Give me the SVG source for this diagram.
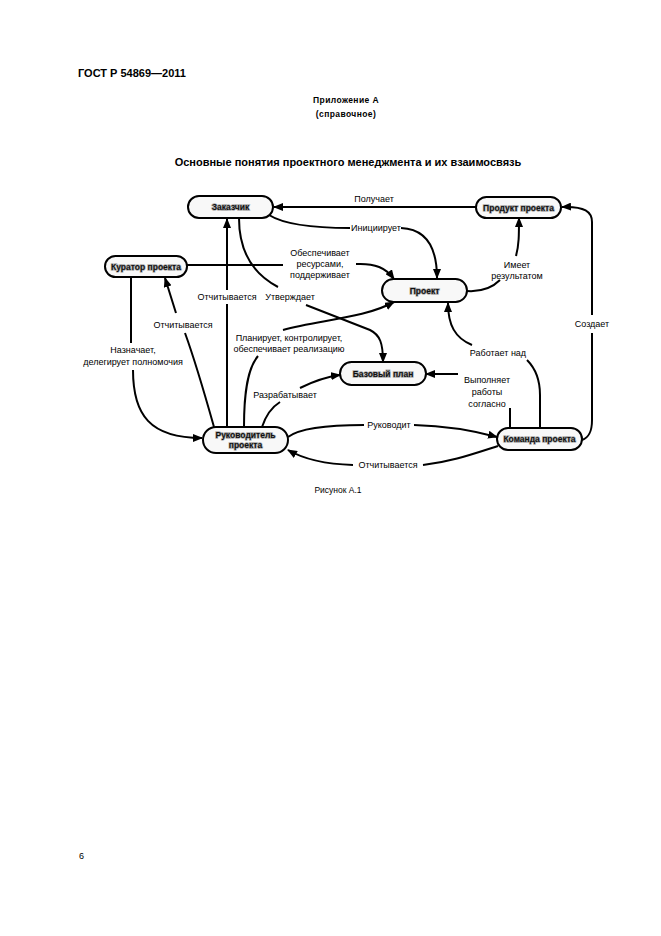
<svg xmlns="http://www.w3.org/2000/svg" width="661" height="936" viewBox="0 0 661 936">
<defs>
<marker id="ah" viewBox="0 0 10 8" refX="9" refY="4" markerWidth="10" markerHeight="8" markerUnits="userSpaceOnUse" orient="auto">
<path d="M0,0 L10,4 L0,8 z" fill="#000"/>
</marker>
</defs>
<style>
.t{font-family:"Liberation Sans",Arial,sans-serif;fill:#000}
.hd{font-weight:bold;font-size:11px}
.ap{font-weight:bold;font-size:8.5px;letter-spacing:0.4px}
.ti{font-weight:bold;font-size:11px}
.lb{font-size:9px;text-anchor:middle}
.nt{font-family:"Liberation Sans",Arial,sans-serif;font-weight:bold;font-size:8.5px;text-anchor:middle;fill:#111;stroke:#aaa;stroke-width:1.4px;paint-order:stroke}
.box{fill:#f8f8f8;stroke:#000;stroke-width:2}
.e{fill:none;stroke:#000;stroke-width:2}
.a{marker-end:url(#ah)}
</style>
<rect width="661" height="936" fill="#fff"/>
<text class="t hd" x="78" y="77">ГОСТ Р 54869—2011</text>
<text class="t ap" x="346" y="103" text-anchor="middle">Приложение А</text>
<text class="t ap" x="346" y="117" text-anchor="middle">(справочное)</text>
<text class="t ti" x="348" y="166" text-anchor="middle">Основные понятия проектного менеджмента и их взаимосвязь</text>

<g id="connectors">
<path class="e a" d="M476,207 L274,207"/>
<path class="e" d="M269,215 C285,225 318,228 350,228"/>
<path class="e a" d="M401,228 C425,229 437,245 437,278"/>
<path class="e" d="M187,265 L283,265"/>
<path class="e a" d="M356,264 C375,263 386,268 394,279"/>
<path class="e" d="M467,291 C482,292 493,287 500,280"/>
<path class="e a" d="M516,256 C519,245 519,235 519,218"/>
<path class="e" d="M582,440 C590,437 592,430 592,420 L592,333"/>
<path class="e a" d="M592,315 L592,222 C592,212 585,206 562,207"/>
<path class="e" d="M227,427 L227,304"/>
<path class="e a" d="M227,290 L227,219"/>
<path class="e" d="M239,218 C239,255 255,275 278,287"/>
<path class="e a" d="M306,305 L370,330 C380,335 383,343 383,362"/>
<path class="e" d="M244,427 C244,390 248,368 258,356"/>
<path class="e a" d="M283,330 C320,320 365,318 394,302"/>
<path class="e" d="M262,427 C266,415 272,407 280,402"/>
<path class="e a" d="M300,388 C312,382 325,377 340,375"/>
<path class="e" d="M131,277 L131,343"/>
<path class="e a" d="M133,370 C133,415 150,438 202,438"/>
<path class="e" d="M214,427 C205,395 193,355 185,333"/>
<path class="e a" d="M176,313 L165,278"/>
<path class="e" d="M288,437 C300,428 330,425 364,425"/>
<path class="e a" d="M414,425 C450,426 475,431 497,437"/>
<path class="e" d="M498,446 C470,455 450,462 423,465"/>
<path class="e a" d="M353,465 C320,464 300,457 288,450"/>
<path class="e" d="M510,427 L510,408"/>
<path class="e a" d="M458,374 L426,374"/>
<path class="e" d="M540,428 L540,395 C540,378 535,368 527,360"/>
<path class="e a" d="M472,345 C455,338 448,325 448,303"/>
</g>

<g id="labels">
<text class="t lb" x="374" y="202">Получает</text>
<text class="t lb" x="376" y="231">Инициирует</text>
<text class="t lb" x="320" y="256">Обеспечивает</text>
<text class="t lb" x="320" y="267">ресурсами,</text>
<text class="t lb" x="320" y="278">поддерживает</text>
<text class="t lb" x="517" y="268">Имеет</text>
<text class="t lb" x="517" y="279">результатом</text>
<text class="t lb" x="592" y="327">Создает</text>
<text class="t lb" x="227" y="300">Отчитывается</text>
<text class="t lb" x="290" y="300">Утверждает</text>
<text class="t lb" x="289" y="341">Планирует, контролирует,</text>
<text class="t lb" x="289" y="352">обеспечивает реализацию</text>
<text class="t lb" x="285" y="398">Разрабатывает</text>
<text class="t lb" x="133" y="353">Назначает,</text>
<text class="t lb" x="133" y="365">делегирует полномочия</text>
<text class="t lb" x="183" y="328">Отчитывается</text>
<text class="t lb" x="389" y="428">Руководит</text>
<text class="t lb" x="388" y="468">Отчитывается</text>
<text class="t lb" x="487" y="383">Выполняет</text>
<text class="t lb" x="487" y="395">работы</text>
<text class="t lb" x="487" y="407">согласно</text>
<text class="t lb" x="498" y="356">Работает над</text>
</g>

<g id="n-zakazchik"><rect class="box" x="188" y="196" width="85" height="22" rx="11"/><text class="nt" x="230.5" y="210">Заказчик</text></g>
<g id="n-produkt"><rect class="box" x="476" y="197" width="85" height="21" rx="10.5"/><text class="nt" x="518.5" y="210.5">Продукт проекта</text></g>
<g id="n-kurator"><rect class="box" x="105" y="256" width="82" height="21" rx="10.5"/><text class="nt" x="146" y="269.5">Куратор проекта</text></g>
<g id="n-proekt"><rect class="box" x="382" y="279" width="85" height="23" rx="11.5"/><text class="nt" x="424.5" y="293.5">Проект</text></g>
<g id="n-bazplan"><rect class="box" x="340" y="362" width="86" height="23" rx="11.5"/><text class="nt" x="383" y="376.5">Базовый план</text></g>
<g id="n-rukovod"><rect class="box" x="203" y="427" width="85" height="26" rx="13"/><text class="nt" x="245.5" y="438">Руководитель</text><text class="nt" x="245.5" y="448">проекта</text></g>
<g id="n-komanda"><rect class="box" x="497" y="428" width="85" height="22" rx="11"/><text class="nt" x="539.5" y="442">Команда проекта</text></g>

<text class="t" x="338" y="493" font-size="8.5" text-anchor="middle">Рисунок А.1</text>
<text class="t" x="79" y="859" font-size="9">6</text>
</svg>
